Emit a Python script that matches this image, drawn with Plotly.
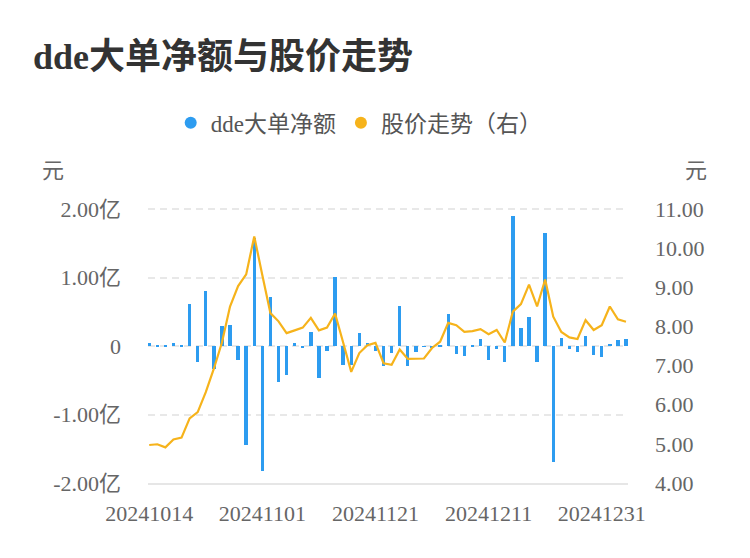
import plotly.graph_objects as go

dates = [
    "20241014", "20241015", "20241016", "20241017", "20241018",
    "20241021", "20241022", "20241023", "20241024", "20241025",
    "20241028", "20241029", "20241030", "20241031", "20241101",
    "20241104", "20241105", "20241106", "20241107", "20241108",
    "20241111", "20241112", "20241113", "20241114", "20241115",
    "20241118", "20241119", "20241120", "20241121", "20241122",
    "20241125", "20241126", "20241127", "20241128", "20241129",
    "20241202", "20241203", "20241204", "20241205", "20241206",
    "20241209", "20241210", "20241211", "20241212", "20241213",
    "20241216", "20241217", "20241218", "20241219", "20241220",
    "20241223", "20241224", "20241225", "20241226", "20241227",
    "20241230", "20241231", "20250102", "20250103", "20250106",
]

# dde big-order net amount, in 亿 (100 million yuan)
dde_net = [
    0.04, 0.02, 0.005, 0.05, 0.01, 0.61, -0.24, 0.81, -0.34, 0.29,
    0.31, -0.20, -1.45, 1.58, -1.83, 0.71, -0.53, -0.43, 0.05, -0.03,
    0.20, -0.47, -0.07, 1.01, -0.28, -0.28, 0.19, 0.04, -0.08, -0.29,
    -0.10, 0.59, -0.29, -0.09, -0.005, -0.02, 0.005, 0.47, -0.12, -0.14,
    0.01, 0.10, -0.21, -0.04, -0.24, 1.90, 0.27, 0.42, -0.24, 1.65,
    -1.70, 0.11, -0.04, -0.09, 0.15, -0.13, -0.16, 0.03, 0.09, 0.10,
]

# closing price, yuan
price = [
    4.97, 4.99, 4.91, 5.11, 5.16, 5.65, 5.81, 6.32, 6.92, 7.59,
    8.51, 9.03, 9.33, 10.30, 9.31, 8.34, 8.13, 7.83, 7.90, 7.97,
    8.22, 7.90, 7.97, 8.33, 7.59, 6.84, 7.32, 7.52, 7.58, 7.06,
    7.02, 7.41, 7.17, 7.17, 7.18, 7.45, 7.61, 8.09, 8.03, 7.86,
    7.88, 7.93, 7.80, 7.91, 7.59, 8.38, 8.57, 9.07, 8.51, 9.20,
    8.25, 7.86, 7.72, 7.68, 8.16, 7.91, 8.03, 8.51, 8.18, 8.12,
]

x_ticks = ["20241014", "20241101", "20241121", "20241211", "20241231"]
left_ticks = [-2, -1, 0, 1, 2]
left_labels = ["-2.00亿", "-1.00亿", "0", "1.00亿", "2.00亿"]
right_ticks = [4, 5, 6, 7, 8, 9, 10, 11]

BLUE = "#2D9CF0"
ORANGE = "#F6B31B"
FONT = "Liberation Serif, Noto Sans CJK SC, serif"
TICK_COLOR = "#666666"

# the page body has an 8px margin, so the figure is drawn 8px smaller
W, H = 742, 550

fig = go.Figure()

fig.add_trace(go.Bar(
    x=dates, y=dde_net, name="dde大单净额",
    marker=dict(color=BLUE, line=dict(width=0)),
    width=0.42, showlegend=False,
))

fig.add_trace(go.Scatter(
    x=dates, y=price, name="股价走势（右）", yaxis="y2",
    mode="lines", line=dict(color=ORANGE, width=2.2),
    showlegend=False,
))

# legend entries with round dots
for name, color in [("dde大单净额", BLUE), ("股价走势（右）", ORANGE)]:
    fig.add_trace(go.Scatter(
        x=[None], y=[None], mode="markers", name=name,
        marker=dict(size=12, color=color, symbol="circle"),
    ))

fig.update_layout(
    width=W, height=H,
    margin=dict(l=140, r=122, t=200, b=75),
    paper_bgcolor="white", plot_bgcolor="white",
    font=dict(family=FONT, color=TICK_COLOR, size=22),
    title=dict(
        text="<b>dde大单净额与股价走势</b>",
        x=25 / W, xanchor="left", xref="container",
        y=1 - 48 / H, yanchor="middle", yref="container",
        font=dict(size=36, color="#333333", family=FONT),
    ),
    legend=dict(
        orientation="h", x=0.44, xanchor="center", y=1.31, yanchor="middle",
        font=dict(size=23, color="#555555"), itemwidth=30,
        bgcolor="rgba(0,0,0,0)",
    ),
    bargap=0,
    xaxis=dict(
        type="category", range=[-0.15, 59.25],
        tickmode="array", tickvals=x_ticks, ticktext=x_ticks,
        showgrid=False, zeroline=False,
        showline=True, linecolor="#E6E6E6", linewidth=2,
        ticks="", ticklabelstandoff=10,
        tickfont=dict(size=22, color=TICK_COLOR),
    ),
    yaxis=dict(
        # a hair above 2 so the top dashed gridline is still drawn
        range=[-2, 2.015], tickmode="array", tickvals=left_ticks, ticktext=left_labels,
        showgrid=True, gridcolor="#E8E8E8", gridwidth=1.5, griddash="7px,5px",
        zeroline=False, showline=False, ticks="", ticklabelstandoff=26,
        tickfont=dict(size=22, color=TICK_COLOR),
    ),
    yaxis2=dict(
        overlaying="y", side="right", range=[4, 11.026],
        tickmode="array", tickvals=right_ticks, tickformat=".2f",
        showgrid=False, zeroline=False, showline=False,
        ticks="", ticklabelstandoff=26,
        tickfont=dict(size=22, color=TICK_COLOR),
    ),
)

# axis unit labels
for xp in [(53 - 148) / 480, (696 - 148) / 480]:
    fig.add_annotation(
        text="元", x=xp, y=(483 - 170) / 275, xref="paper", yref="paper",
        showarrow=False, xanchor="center", yanchor="middle",
        font=dict(size=22, color=TICK_COLOR),
    )

fig.write_html("out.html")
